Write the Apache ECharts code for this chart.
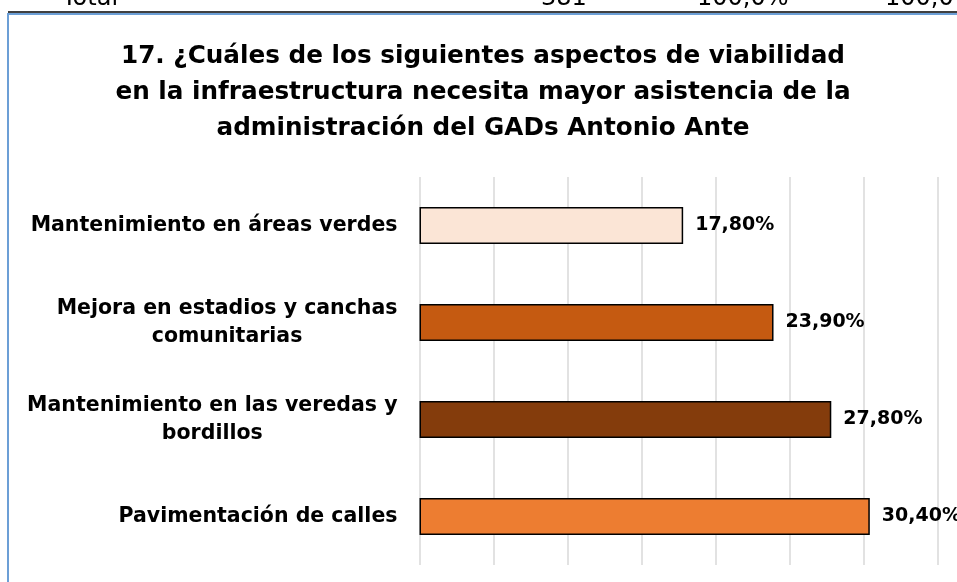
<!DOCTYPE html>
<html>
<head>
<meta charset="utf-8">
<script src="https://cdn.jsdelivr.net/npm/echarts@6/dist/echarts.min.js"></script>
<style>
  html, body { margin: 0; padding: 0; background: #fff; }
  #chart { width: 957px; height: 582px; }
</style>
</head>
<body>
<div id="chart"></div>
<script>
// categories, top to bottom
var categories = [
  'Mantenimiento en áreas verdes',
  'Mejora en estadios y canchas\ncomunitarias',
  'Mantenimiento en las veredas y\nbordillos',
  'Pavimentación de calles'
];
var values = [17.8, 23.9, 27.8, 30.4];
var barColors = ['#FBE5D6', '#C55A11', '#843C0C', '#ED7D31'];
// row of the table above the chart, cut off by the crop
var headerRow = ['Total', '381', '100,0%', '100,0%'];
var headerX = [62, 541, 697, 885];

var font = '"DejaVu Sans", sans-serif';

var chart = echarts.init(document.getElementById('chart'));

var headerTexts = headerRow.map(function (t, i) {
  return {
    type: 'text',
    left: headerX[i],
    top: -13,
    silent: true,
    style: { text: t, font: '24px ' + font, fill: '#000' }
  };
});

chart.setOption({
  animation: false,
  backgroundColor: '#fff',
  title: {
    text: '17. ¿Cuáles de los siguientes aspectos de viabilidad\nen la infraestructura necesita mayor asistencia de la\nadministración del GADs Antonio Ante',
    left: 478,
    top: 34,
    textAlign: 'center',
    textStyle: {
      fontFamily: font,
      fontWeight: 'bold',
      fontSize: 24.7,
      lineHeight: 36,
      color: '#000'
    }
  },
  grid: {
    left: 419.5,
    right: -55,
    top: 177,
    bottom: 17,
    outerBoundsMode: 'none',
    containLabel: false
  },
  xAxis: {
    type: 'value',
    min: 0,
    max: 40,
    interval: 5,
    axisLabel: { show: false },
    axisLine: { show: false },
    axisTick: { show: false },
    splitLine: { show: true, lineStyle: { color: '#d9d9d9', width: 1.5 } }
  },
  yAxis: {
    type: 'category',
    inverse: true,
    data: categories,
    axisLine: { show: false },
    axisTick: { show: false },
    axisLabel: {
      margin: 22,
      align: 'right',
      formatter: function (v) {
        return v.split('\n').map(function (s) { return '{c|' + s + '}'; }).join('\n');
      },
      rich: {
        c: {
          align: 'center',
          fontFamily: font,
          fontWeight: 'bold',
          fontSize: 20.5,
          lineHeight: 28,
          color: '#000'
        }
      }
    }
  },
  series: [{
    type: 'bar',
    barWidth: 37,
    data: values.map(function (v, i) {
      return { value: v, itemStyle: { color: barColors[i] } };
    }),
    itemStyle: { borderColor: '#000', borderWidth: 1.5 },
    label: {
      show: true,
      position: 'right',
      distance: 12,
      fontFamily: font,
      fontWeight: 'bold',
      fontSize: 19,
      color: '#000',
      formatter: function (p) {
        return p.value.toFixed(2).replace('.', ',') + '%';
      }
    }
  }],
  graphic: headerTexts.concat([
    {
      type: 'line',
      silent: true,
      shape: { x1: 8, y1: 12, x2: 957, y2: 12 },
      style: { stroke: '#000', lineWidth: 1.5 }
    },
    {
      type: 'line',
      silent: true,
      shape: { x1: 8, y1: 14, x2: 957, y2: 14 },
      style: { stroke: '#6c9fd6', lineWidth: 2 }
    },
    {
      type: 'line',
      silent: true,
      shape: { x1: 8, y1: 13, x2: 8, y2: 582 },
      style: { stroke: '#6c9fd6', lineWidth: 2 }
    }
  ])
});
</script>
</body>
</html>
